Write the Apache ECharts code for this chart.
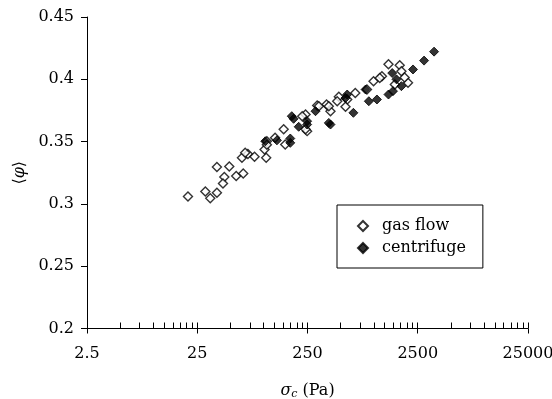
<!DOCTYPE html>
<html>
<head>
<meta charset="utf-8">
<script src="https://cdn.jsdelivr.net/npm/echarts@6/dist/echarts.min.js"></script>
<style>html,body{margin:0;padding:0;background:#fff}#c{width:552px;height:399px}</style>
</head>
<body>
<div id="c"></div>
<script>
// Gas flow (open diamonds)
var gasFlowSigma = [20.6, 29.6, 32.8, 37.7, 37.7, 48.8, 44, 42.8, 56.4, 65.3, 63.6, 72, 82.7, 105.5, 102, 107, 68, 152, 157, 127, 240, 306, 372, 248, 404, 481, 573, 224, 317, 678, 465, 553, 865, 993, 1183, 1357, 1715, 1777, 2040, 1130, 390, 240, 107, 1550, 1900];
var gasFlowPhi   = [0.306, 0.310, 0.3045, 0.309, 0.3296, 0.330, 0.3216, 0.3164, 0.3224, 0.3244, 0.337, 0.340, 0.3378, 0.337, 0.3437, 0.3503, 0.341, 0.360, 0.3477, 0.353, 0.3717, 0.379, 0.3798, 0.3584, 0.3744, 0.386, 0.3838, 0.3704, 0.3784, 0.389, 0.3824, 0.378, 0.3918, 0.3985, 0.4025, 0.412, 0.4112, 0.4065, 0.3972, 0.401, 0.3784, 0.360, 0.3475, 0.3958, 0.4015];
// Centrifuge (filled diamonds)
var centrifugeSigma = [132, 174.5, 187, 208, 295.5, 390, 573, 248, 103.5, 180, 174.5, 248, 404, 553, 841, 900, 1467, 652, 1066, 1357, 1602, 1777, 2265, 2852, 3515, 1490];
var centrifugePhi   = [0.351, 0.349, 0.3683, 0.3619, 0.3744, 0.365, 0.3878, 0.3637, 0.3503, 0.3704, 0.3525, 0.3664, 0.3637, 0.385, 0.3918, 0.3824, 0.405, 0.3731, 0.3838, 0.3878, 0.400, 0.3945, 0.4079, 0.415, 0.4222, 0.3905];
// Axis ticks
var xMajorTicks = [2.5, 25, 250, 2500, 25000];
var xMajorLabels = ['2.5', '25', '250', '2500', '25000'];
var xMinorMultipliers = [1, 2, 3, 4, 5, 6, 7, 8, 9];
var yTicks = [0.2, 0.25, 0.3, 0.35, 0.4, 0.45];

var xMinorTicks = [];
for (var d = 0; d < xMajorTicks.length - 1; d++) {
  for (var k = 0; k < xMinorMultipliers.length; k++) {
    xMinorTicks.push(xMajorTicks[d] * xMinorMultipliers[k]);
  }
}
xMinorTicks.push(xMajorTicks[xMajorTicks.length - 1]);

function pairs(xs, ys) { return xs.map(function (x, i) { return [x, ys[i]]; }); }

var FONT = 'DejaVu Serif';
var chart = echarts.init(document.getElementById('c'), null, {renderer: 'canvas'});
chart.setOption({
  animation: false,
  backgroundColor: '#fff',
  textStyle: {fontFamily: FONT, color: '#000'},
  grid: {left: 87, right: 24, top: 17, bottom: 70.5, containLabel: false, outerBoundsMode: 'none'},
  xAxis: [{
    type: 'log', logBase: 10, min: 2.5, max: 25000, position: 'bottom',
    axisLine: {lineStyle: {color: '#000', width: 1}},
    axisTick: {show: true, inside: false, length: 5, lineStyle: {color: '#000'}, customValues: xMajorTicks},
    axisLabel: {customValues: xMajorTicks, margin: 17, fontFamily: FONT, fontSize: 16, color: '#000',
      formatter: function (v) { var i = xMajorTicks.indexOf(v); return i >= 0 ? xMajorLabels[i] : String(v); }},
    splitLine: {show: false}, minorTick: {show: false},
    name: '{i|σ}{s|c} (Pa)', nameLocation: 'middle', nameGap: 54,
    nameTextStyle: {fontFamily: FONT, fontSize: 16, color: '#000',
      rich: {i: {fontFamily: FONT, fontStyle: 'italic', fontSize: 16}, s: {fontFamily: FONT, fontStyle: 'italic', fontSize: 11, verticalAlign: 'bottom', padding: [6, 0, 0, 0]}}}
  }, {
    type: 'log', logBase: 10, min: 2.5, max: 25000, position: 'bottom', offset: 0,
    axisLine: {show: false},
    axisTick: {show: true, inside: true, length: 6, lineStyle: {color: '#000'}, customValues: xMinorTicks},
    axisLabel: {show: false}, splitLine: {show: false}
  }],
  yAxis: {
    type: 'value', min: 0.2, max: 0.45, interval: 0.05,
    axisLine: {show: true, lineStyle: {color: '#000', width: 1}},
    axisTick: {show: true, inside: false, length: 6, lineStyle: {color: '#000'}},
    axisLabel: {margin: 13, fontFamily: FONT, fontSize: 16, color: '#000',
      formatter: function (v) { var i = yTicks.findIndex(function (t) { return Math.abs(t - v) < 1e-9; }); return i >= 0 ? String(yTicks[i]) : ''; }},
    splitLine: {show: false},
    name: '⟨{i|φ}⟩', nameLocation: 'middle', nameGap: 58, nameRotate: 90,
    nameTextStyle: {fontFamily: FONT, fontSize: 16, color: '#000', rich: {i: {fontFamily: FONT, fontStyle: 'italic', fontSize: 16}}}
  },
  legend: {
    orient: 'vertical', left: 337, top: 205,
    padding: [13, 17, 12, 20], itemGap: 6, itemWidth: 10, itemHeight: 10,
    borderColor: '#000', borderWidth: 1, backgroundColor: '#fff',
    textStyle: {fontFamily: FONT, fontSize: 16, color: '#000', padding: [0, 0, 0, 9]},
    data: [{name: 'gas flow', icon: 'diamond'}, {name: 'centrifuge', icon: 'diamond'}]
  },
  series: [{
    name: 'gas flow', type: 'scatter', symbol: 'diamond', symbolSize: 9,
    itemStyle: {color: '#fff', borderColor: '#000', borderWidth: 1.4},
    data: pairs(gasFlowSigma, gasFlowPhi)
  }, {
    name: 'centrifuge', type: 'scatter', symbol: 'diamond', symbolSize: 9,
    itemStyle: {color: '#000', borderColor: '#000', borderWidth: 1},
    data: pairs(centrifugeSigma, centrifugePhi)
  }]
});
</script>
</body>
</html>
